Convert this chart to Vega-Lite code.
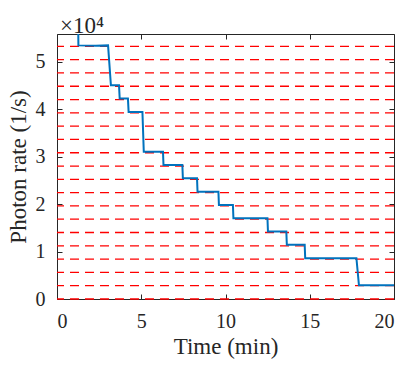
{
  "$schema": "https://vega.github.io/schema/vega-lite/v6.json",
  "autosize": {"type": "none"},
  "width": 337,
  "height": 265,
  "padding": {"left": 57, "top": 34, "right": 10, "bottom": 66},
  "background": "white",
  "config": {
    "view": {"stroke": "#262626", "strokeWidth": 1},
    "font": "Liberation Serif",
    "axis": {
      "domain": false,
      "grid": false,
      "tickSize": -5,
      "tickColor": "#262626",
      "labelFont": "Liberation Serif",
      "labelFontSize": 20,
      "labelColor": "#262626",
      "titleFont": "Liberation Serif",
      "titleFontSize": 23,
      "titleFontWeight": "normal",
      "titleColor": "#262626"
    }
  },
  "title": {
    "text": "×10⁴",
    "anchor": "start",
    "frame": "group",
    "font": "Liberation Serif",
    "fontSize": 23,
    "fontWeight": "normal",
    "color": "#262626",
    "offset": 0,
    "dx": 3,
    "dy": 12
  },
  "datasets": {
    "grid": [
      {"v": 0}, {"v": 2800}, {"v": 5600}, {"v": 8400}, {"v": 11200},
      {"v": 14000}, {"v": 16800}, {"v": 19600}, {"v": 22400}, {"v": 25200},
      {"v": 28000}, {"v": 30800}, {"v": 33600}, {"v": 36400}, {"v": 39200},
      {"v": 42000}, {"v": 44800}, {"v": 47600}, {"v": 50400}, {"v": 53200}
    ],
    "trace": [
      {"t": 1.26, "r": 57000},
      {"t": 1.27, "r": 53400},
      {"t": 2.3, "r": 53300},
      {"t": 3.03, "r": 53400},
      {"t": 3.2, "r": 45000},
      {"t": 3.68, "r": 45000},
      {"t": 3.72, "r": 42200},
      {"t": 4.21, "r": 42200},
      {"t": 4.25, "r": 39400},
      {"t": 5.07, "r": 39400},
      {"t": 5.15, "r": 31000},
      {"t": 6.29, "r": 31000},
      {"t": 6.32, "r": 28200},
      {"t": 7.44, "r": 28200},
      {"t": 7.47, "r": 25400},
      {"t": 8.31, "r": 25400},
      {"t": 8.34, "r": 22600},
      {"t": 9.58, "r": 22600},
      {"t": 9.61, "r": 19800},
      {"t": 10.44, "r": 19800},
      {"t": 10.47, "r": 17000},
      {"t": 12.49, "r": 17000},
      {"t": 12.52, "r": 14200},
      {"t": 13.61, "r": 14200},
      {"t": 13.64, "r": 11400},
      {"t": 14.7, "r": 11400},
      {"t": 14.73, "r": 8600},
      {"t": 17.77, "r": 8600},
      {"t": 17.92, "r": 2900},
      {"t": 20, "r": 2900}
    ]
  },
  "layer": [
    {
      "data": {"name": "grid"},
      "mark": {"type": "rule", "color": "#ff0000", "strokeWidth": 1.3, "strokeDash": [9, 6]},
      "encoding": {
        "y": {
          "field": "v", "type": "quantitative",
          "scale": {"domain": [0, 55800], "nice": false, "zero": false},
          "axis": {
            "orient": "left",
            "title": "Photon rate (1/s)",
            "values": [0, 10000, 20000, 30000, 40000, 50000],
            "labelExpr": "datum.value / 10000",
            "labelPadding": 17,
            "titlePadding": 5
          }
        }
      }
    },
    {
      "data": {"name": "trace"},
      "mark": {"type": "line", "color": "#0072BD", "strokeWidth": 2, "clip": true},
      "encoding": {
        "x": {
          "field": "t", "type": "quantitative",
          "scale": {"domain": [0, 20], "nice": false},
          "axis": {
            "orient": "bottom",
            "title": "Time (min)",
            "values": [0, 5, 10, 15, 20],
            "labelPadding": 17,
            "titlePadding": 4
          }
        },
        "y": {"field": "r", "type": "quantitative", "axis": null}
      }
    },
    {
      "data": {"name": "trace"},
      "mark": {"type": "point", "opacity": 0},
      "encoding": {
        "x": {
          "field": "t", "type": "quantitative",
          "scale": {"domain": [0, 20], "nice": false},
          "axis": {"orient": "top", "title": null, "labels": false, "values": [0, 5, 10, 15, 20]}
        },
        "y": {
          "field": "r", "type": "quantitative",
          "scale": {"domain": [0, 55800], "nice": false, "zero": false},
          "axis": {"orient": "right", "title": null, "labels": false, "values": [0, 10000, 20000, 30000, 40000, 50000]}
        }
      }
    }
  ],
  "resolve": {"axis": {"x": "independent", "y": "independent"}}
}
